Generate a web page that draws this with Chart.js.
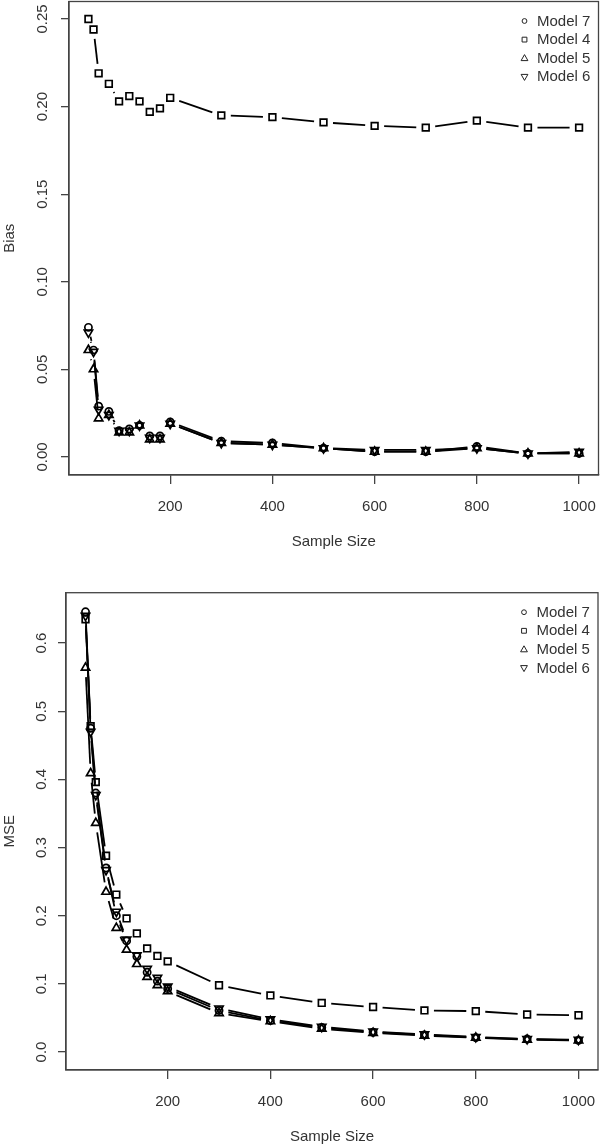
<!DOCTYPE html>
<html>
<head>
<meta charset="utf-8">
<script src="https://cdn.jsdelivr.net/npm/chart.js@4/dist/chart.umd.min.js"></script>
<style>
  html, body { margin: 0; padding: 0; background: #fff; }
  canvas { display: block; }
</style>
</head>
<body>
<canvas id="biasChart" width="600" height="573"></canvas>
<canvas id="mseChart" width="600" height="573"></canvas>
<script>
// ---- data ----
const sampleSizes = [40, 50, 60, 80, 100, 120, 140, 160, 180, 200, 300, 400, 500, 600, 700, 800, 900, 1000];
const seriesNames = ["Model 7", "Model 4", "Model 5", "Model 6"];

const biasModel7 = [0.074, 0.061, 0.029, 0.026, 0.015, 0.016, 0.018, 0.012, 0.012, 0.020, 0.009, 0.008, 0.005, 0.003, 0.003, 0.006, 0.002, 0.002];
const biasModel4 = [0.250, 0.244, 0.219, 0.213, 0.203, 0.206, 0.203, 0.197, 0.199, 0.205, 0.195, 0.194, 0.191, 0.189, 0.188, 0.192, 0.188, 0.188];
const biasModel5 = [0.061, 0.050, 0.022, 0.024, 0.014, 0.014, 0.018, 0.010, 0.010, 0.019, 0.008, 0.007, 0.005, 0.003, 0.003, 0.005, 0.002, 0.002];
const biasModel6 = [0.071, 0.060, 0.027, 0.024, 0.015, 0.015, 0.018, 0.011, 0.011, 0.019, 0.008, 0.007, 0.005, 0.004, 0.004, 0.005, 0.002, 0.003];

const mseModel7 = [0.646, 0.475, 0.380, 0.270, 0.200, 0.163, 0.140, 0.117, 0.104, 0.093, 0.061, 0.046, 0.036, 0.029, 0.025, 0.021, 0.019, 0.017];
const mseModel4 = [0.635, 0.478, 0.396, 0.288, 0.231, 0.196, 0.174, 0.152, 0.141, 0.133, 0.098, 0.083, 0.072, 0.066, 0.061, 0.060, 0.055, 0.054];
const mseModel5 = [0.564, 0.409, 0.336, 0.235, 0.182, 0.150, 0.129, 0.110, 0.098, 0.089, 0.057, 0.045, 0.034, 0.028, 0.024, 0.021, 0.018, 0.017];
const mseModel6 = [0.640, 0.470, 0.377, 0.267, 0.206, 0.165, 0.142, 0.122, 0.109, 0.096, 0.064, 0.048, 0.037, 0.030, 0.026, 0.022, 0.019, 0.018];

const xTickValues = [200, 400, 600, 800, 1000];
const biasTickValues = [0.00, 0.05, 0.10, 0.15, 0.20, 0.25];
const mseTickValues = [0.0, 0.1, 0.2, 0.3, 0.4, 0.5, 0.6];

// ---- styling ----
const FONT = "'Liberation Sans', Arial, Helvetica, sans-serif";
const TEXT_COLOR = '#333';
const AXIS_COLOR = '#444';
const markers = [
  { style: 'circle', radius: 3.6, rotation: 0 },
  { style: 'rect', radius: 4.7, rotation: 0 },
  { style: 'triangle', radius: 4.8, rotation: 0 },
  { style: 'triangle', radius: 4.8, rotation: 180 }
];
const GAP = 9.5;

function gapDash(ctx) {
  const L = Math.hypot(ctx.p1.x - ctx.p0.x, ctx.p1.y - ctx.p0.y);
  if (L <= 2 * GAP + 0.5) return [0, L + 1000];
  return [0, GAP, L - 2 * GAP, GAP];
}

function makeDatasets(seriesList) {
  return seriesList.map((vals, i) => ({
    label: seriesNames[i],
    data: sampleSizes.map((x, j) => ({ x: x, y: vals[j] })),
    showLine: true,
    borderColor: '#000',
    borderWidth: 1.8,
    tension: 0,
    pointStyle: markers[i].style,
    pointRadius: markers[i].radius,
    pointRotation: markers[i].rotation,
    pointBorderColor: '#000',
    pointBackgroundColor: 'rgba(0,0,0,0)',
    pointBorderWidth: 1.7,
    pointHoverRadius: markers[i].radius,
    segment: { borderDash: gapDash }
  }));
}

const boxAndLegend = {
  id: 'boxAndLegend',
  afterDraw(chart) {
    const { ctx, chartArea: a } = chart;
    ctx.save();
    ctx.strokeStyle = AXIS_COLOR;
    ctx.lineWidth = 1.3;
    ctx.strokeRect(a.left, a.top, a.right - a.left, a.bottom - a.top);
    // legend (R style, no box)
    ctx.font = '15px ' + FONT;
    ctx.textBaseline = 'middle';
    ctx.textAlign = 'left';
    ctx.lineWidth = 1;
    chart.data.datasets.forEach((ds, i) => {
      const y = a.top + 19.5 + i * 18.6;
      const sx = a.right - 74;
      ctx.strokeStyle = '#222';
      ctx.beginPath();
      const m = markers[i];
      if (m.style === 'circle') {
        ctx.arc(sx, y, 2.4, 0, Math.PI * 2);
      } else if (m.style === 'rect') {
        ctx.rect(sx - 2.4, y - 2.4, 4.8, 4.8);
      } else if (m.rotation === 0) {
        ctx.moveTo(sx, y - 3.6); ctx.lineTo(sx + 3.4, y + 2.4); ctx.lineTo(sx - 3.4, y + 2.4); ctx.closePath();
      } else {
        ctx.moveTo(sx, y + 3.6); ctx.lineTo(sx + 3.4, y - 2.4); ctx.lineTo(sx - 3.4, y - 2.4); ctx.closePath();
      }
      ctx.stroke();
      ctx.fillStyle = TEXT_COLOR;
      ctx.fillText(ds.label, a.right - 61.5, y + 0.5);
    });
    ctx.restore();
  }
};

function noPad(s) { s.paddingLeft = 0; s.paddingRight = 0; s.paddingTop = 0; s.paddingBottom = 0; }

function makeChart(id, seriesList, yTitle, yMin, yMax, yTicks, decimals, geom) {
  return new Chart(document.getElementById(id), {
    type: 'scatter',
    data: { datasets: makeDatasets(seriesList) },
    options: {
      responsive: false,
      animation: false,
      devicePixelRatio: 1,
      events: [],
      layout: { autoPadding: false, padding: { top: geom.padTop, right: geom.padRight, left: 0, bottom: 0 } },
      plugins: { legend: { display: false }, tooltip: { enabled: false } },
      scales: {
        x: {
          type: 'linear',
          min: 2,
          max: 1038,
          afterBuildTicks: (s) => { s.ticks = xTickValues.map(v => ({ value: v })); },
          afterFit: (s) => { s.height = geom.xHeight; noPad(s); },
          grid: { drawOnChartArea: false, drawTicks: true, tickLength: 9, color: AXIS_COLOR, lineWidth: 1.3 },
          border: { display: true, color: AXIS_COLOR, width: 1.3 },
          ticks: {
            color: TEXT_COLOR, font: { family: FONT, size: 15 }, padding: geom.xTickPad,
            maxRotation: 0, minRotation: 0, autoSkip: false,
            callback: (v) => String(v)
          },
          title: {
            display: true, text: 'Sample Size', color: TEXT_COLOR,
            font: { family: FONT, size: 15 }, padding: { top: 0, bottom: geom.xTitlePad }
          }
        },
        y: {
          type: 'linear',
          min: yMin,
          max: yMax,
          afterBuildTicks: (s) => { s.ticks = yTicks.map(v => ({ value: v })); },
          afterFit: (s) => { s.width = geom.yWidth; noPad(s); },
          grid: { drawOnChartArea: false, drawTicks: true, tickLength: 8, color: AXIS_COLOR, lineWidth: 1.3 },
          border: { display: true, color: AXIS_COLOR, width: 1.3 },
          ticks: {
            color: TEXT_COLOR, font: { family: FONT, size: 15 }, padding: geom.yTickPad,
            minRotation: 90, maxRotation: 90, crossAlign: 'center', autoSkip: false,
            callback: (v) => Number(v).toFixed(decimals)
          },
          title: {
            display: true, text: yTitle, color: TEXT_COLOR,
            font: { family: FONT, size: 15 }, padding: { top: 0.5, bottom: 0 }
          }
        }
      }
    },
    plugins: [boxAndLegend]
  });
}

makeChart('biasChart', [biasModel7, biasModel4, biasModel5, biasModel6], 'Bias',
  -0.0103, 0.26, biasTickValues, 2,
  { padTop: 1.5, padRight: 1.5, xHeight: 98, yWidth: 69, xTickPad: 13.5, yTickPad: 4, xTitlePad: 22 });

makeChart('mseChart', [mseModel7, mseModel4, mseModel5, mseModel6], 'MSE',
  -0.0264, 0.674, mseTickValues, 1,
  { padTop: 19.7, padRight: 2, xHeight: 76, yWidth: 66, xTickPad: 13.5, yTickPad: 6, xTitlePad: 0.5 });
</script>
</body>
</html>
